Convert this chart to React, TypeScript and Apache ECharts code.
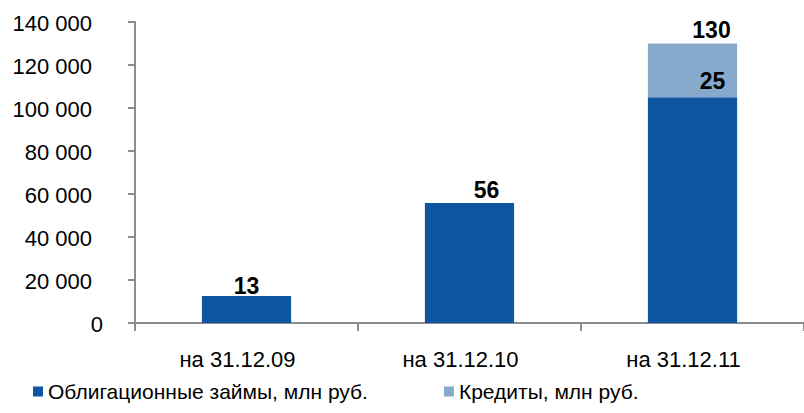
import React, { useEffect, useRef } from "react";
import * as echarts from "echarts";

const categories = ["на 31.12.09", "на 31.12.10", "на 31.12.11"];
const bondsName = "Облигационные займы, млн руб.";
const creditsName = "Кредиты, млн руб.";
const bonds = [12600, 55800, 105000];
const credits: (number | null)[] = [null, null, 25000];
const yTicks = { min: 0, max: 140000, interval: 20000 };

const FONT = "'Liberation Sans', Arial, sans-serif";

export default function App() {
  const ref = useRef<HTMLDivElement>(null);
  useEffect(() => {
    document.body.style.margin = "0";
    if (!ref.current) return;
    const chart = echarts.init(ref.current, null, { renderer: "svg" });
    const totals = bonds.map((b, i) => b + (credits[i] ?? 0));
    const k = (v: number) => String(Math.round(v / 1000));
    const axisColor = "#8c8c8c";
    chart.setOption({
      animation: false,
      textStyle: { fontFamily: FONT },
      grid: { left: 135, right: 0, top: 22, bottom: 90, containLabel: false },
      legend: {
        data: [bondsName, creditsName],
        left: 28,
        bottom: 6,
        icon: "rect",
        itemWidth: 10,
        itemHeight: 10,
        itemGap: 76,
        textStyle: { fontSize: 21, color: "#000", fontFamily: FONT },
      },
      xAxis: {
        type: "category",
        data: categories,
        axisLine: { show: true, lineStyle: { color: axisColor, width: 2 } },
        axisTick: { show: true, interval: 0, length: 8, lineStyle: { color: axisColor, width: 2 } },
        axisLabel: { fontSize: 22, color: "#000", margin: 25, padding: [0, 18, 0, 0], fontFamily: FONT },
      },
      yAxis: {
        type: "value",
        min: yTicks.min,
        max: yTicks.max,
        interval: yTicks.interval,
        splitLine: { show: false },
        axisLine: { show: true, lineStyle: { color: axisColor, width: 2 } },
        axisTick: { show: true, length: 7, lineStyle: { color: axisColor, width: 2 } },
        axisLabel: {
          fontSize: 22,
          color: "#000",
          margin: 32,
          fontFamily: FONT,
          padding: [3, 0, 0, 0],
          formatter: (v: number) =>
            v === 0 ? "0" : `{n|${String(v).replace(/\B(?=(\d{3})+(?!\d))/g, " ")}}`,
          rich: {
            n: { fontSize: 22, color: "#000", fontFamily: FONT, padding: [0, 11, 0, 0] },
          },
        },
      },
      series: [
        {
          name: bondsName,
          type: "bar",
          stack: "a",
          barWidth: "40%",
          itemStyle: { color: "#0F56A0" },
          data: bonds.map((v, i) => ({
            value: v,
            label: {
              show: credits[i] == null,
              position: "top",
              distance: i === 0 ? -2 : 2,
              offset: i === 0 ? [0, 0] : [17, 0],
              fontSize: 23,
              fontWeight: "bold",
              color: "#000",
              fontFamily: FONT,
              formatter: (p: any) => k(p.value),
            },
          })),
        },
        {
          name: creditsName,
          type: "bar",
          stack: "a",
          barWidth: "40%",
          itemStyle: { color: "#87A9CC" },
          label: {
            show: true,
            position: "inside",
            offset: [20, 11],
            fontSize: 23,
            fontWeight: "bold",
            color: "#000",
            fontFamily: FONT,
            formatter: (p: any) => k(p.value),
          },
          data: credits,
        },
        {
          name: "total",
          type: "bar",
          stack: "a",
          barWidth: "40%",
          itemStyle: { color: "transparent" },
          label: {
            show: true,
            position: "top",
            distance: 2,
            offset: [19, 0],
            fontSize: 23,
            fontWeight: "bold",
            color: "#000",
            fontFamily: FONT,
            formatter: (p: any) => k(totals[p.dataIndex]),
          },
          data: credits.map((c) => (c == null ? null : 0)),
        },
      ],
    });
    return () => chart.dispose();
  }, []);
  return <div ref={ref} style={{ width: 804, height: 413 }} />;
}
